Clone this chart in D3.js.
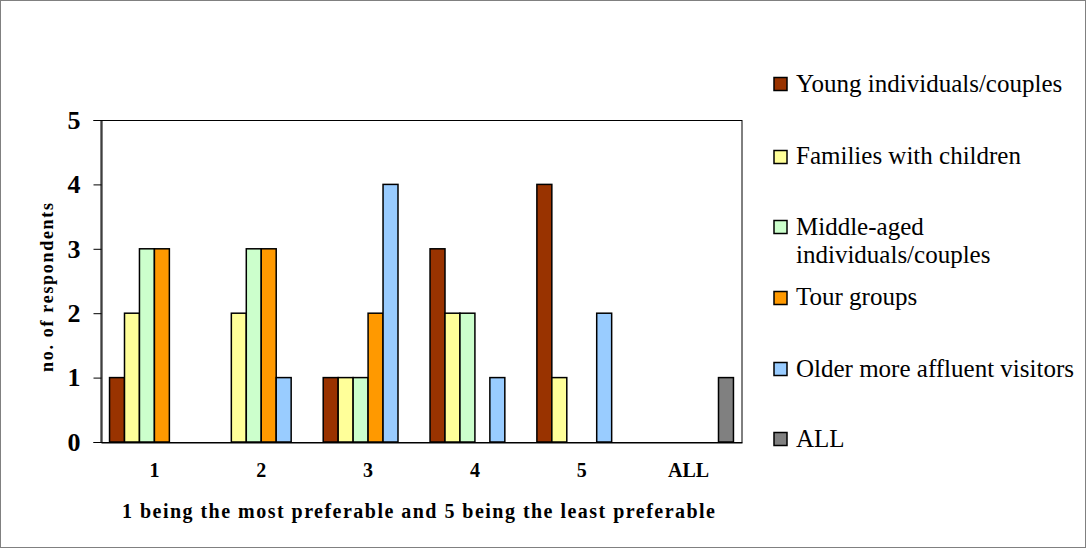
<!DOCTYPE html>
<html>
<head>
<meta charset="utf-8">
<script src="https://cdn.jsdelivr.net/npm/d3@7/dist/d3.min.js"></script>
<style>
  body { margin: 0; background: #fff; }
  svg { display: block; }
  text { font-family: "Liberation Serif", "Times New Roman", serif; }
</style>
</head>
<body>
<svg id="chart" width="1086" height="548" font-family="Liberation Serif, Times New Roman, serif"></svg>
<script>
// Preference ranking categories
const categories = ["1", "2", "3", "4", "5", "ALL"];
const seriesNames = [
  "Young individuals/couples",
  "Families with children",
  "Middle-aged individuals/couples",
  "Tour groups",
  "Older more affluent visitors",
  "ALL"
];
const seriesColors = ["#993300", "#FFFF99", "#CCFFCC", "#FF9900", "#99CCFF", "#808080"];
// Number of respondents per category, one array per visitor group
const young    = [1, 0, 1, 3, 4, 0];
const families = [2, 2, 1, 2, 1, 0];
const middle   = [3, 3, 1, 2, 0, 0];
const tour     = [3, 3, 2, 0, 0, 0];
const older    = [0, 1, 4, 1, 2, 0];
const allGroup = [0, 0, 0, 0, 0, 1];
const seriesValues = [young, families, middle, tour, older, allGroup];
const yTicks = [0, 1, 2, 3, 4, 5];

const svg = d3.select("#chart");
const serif = "Liberation Serif, Times New Roman, serif";

// outer frame
svg.append("rect").attr("x", 0.5).attr("y", 0.5).attr("width", 1085).attr("height", 547)
  .attr("fill", "#fff").attr("stroke", "#808080").attr("stroke-width", 1);

const plot = { left: 101, right: 742, top: 120, bottom: 442 };

const x = d3.scaleBand().domain(categories).range([plot.left, plot.right]).paddingInner(0.16).paddingOuter(0.08);
const xs = d3.scaleBand().domain(d3.range(seriesNames.length)).range([0, x.bandwidth()]);
const y = d3.scaleLinear().domain([0, 5]).range([plot.bottom, plot.top]);

// plot area border
svg.append("rect").attr("x", plot.left).attr("y", plot.top + 0.5)
  .attr("width", plot.right - plot.left).attr("height", plot.bottom - plot.top)
  .attr("fill", "none").attr("stroke", "#000").attr("stroke-width", 1);

// bars
const groups = svg.append("g");
seriesValues.forEach((vals, si) => {
  groups.selectAll(null).data(vals.map((v, ci) => ({ v, c: categories[ci] })).filter(d => d.v > 0))
    .enter().append("rect")
    .attr("x", d => x(d.c) + xs(si))
    .attr("y", d => y(d.v))
    .attr("width", xs.bandwidth())
    .attr("height", d => y(0) - y(d.v))
    .attr("fill", seriesColors[si])
    .attr("stroke", "#000")
    .attr("stroke-width", 1.5);
});

// y axis
const yAxis = d3.axisLeft(y).tickValues(yTicks).tickSize(8).tickPadding(13).tickFormat(d3.format("d"));
const ya = svg.append("g").attr("transform", `translate(${plot.left + 0.5},0)`).call(yAxis);
ya.attr("font-family", serif);
ya.select(".domain").attr("stroke", "#000");
ya.selectAll(".tick line").attr("stroke", "#000");
ya.selectAll(".tick text").attr("font-size", 26).attr("font-weight", "bold").attr("fill", "#000");

// x axis
const xAxis = d3.axisBottom(x).tickSize(0).tickPadding(20);
const xa = svg.append("g").attr("transform", `translate(0,${plot.bottom + 0.5})`).call(xAxis);
xa.attr("font-family", serif);
xa.select(".domain").attr("stroke", "#000");
xa.selectAll(".tick text").attr("font-size", 20).attr("font-weight", "bold").attr("fill", "#000");

// axis titles
svg.append("text").attr("x", 122).attr("y", 518)
  .attr("font-family", serif).attr("font-size", 20).attr("font-weight", "bold")
  .attr("textLength", 593).attr("lengthAdjust", "spacing")
  .text("1 being the most preferable and 5 being the least preferable");

svg.append("text").attr("transform", "translate(53,372) rotate(-90)")
  .attr("font-family", serif).attr("font-size", 18).attr("font-weight", "bold")
  .attr("textLength", 169).attr("lengthAdjust", "spacing")
  .text("no. of respondents");

// legend
const swatchY = [84, 157, 227, 298, 369, 439];
const labelY = [92, 164, 235, 305, 377, 447];
const legend = svg.append("g").attr("font-family", serif);
seriesNames.forEach((name, i) => {
  legend.append("rect").attr("x", 774).attr("y", swatchY[i] - 6.5).attr("width", 13).attr("height", 13)
    .attr("fill", seriesColors[i]).attr("stroke", "#000").attr("stroke-width", 1.5);
  const t = legend.append("text").attr("x", 796).attr("y", labelY[i])
    .attr("font-family", serif).attr("font-size", 25).attr("fill", "#000");
  if (name === "Middle-aged individuals/couples") {
    t.append("tspan").attr("x", 796).text("Middle-aged");
    t.append("tspan").attr("x", 796).attr("dy", 28).text("individuals/couples");
  } else {
    t.text(name);
  }
});
</script>
</body>
</html>
